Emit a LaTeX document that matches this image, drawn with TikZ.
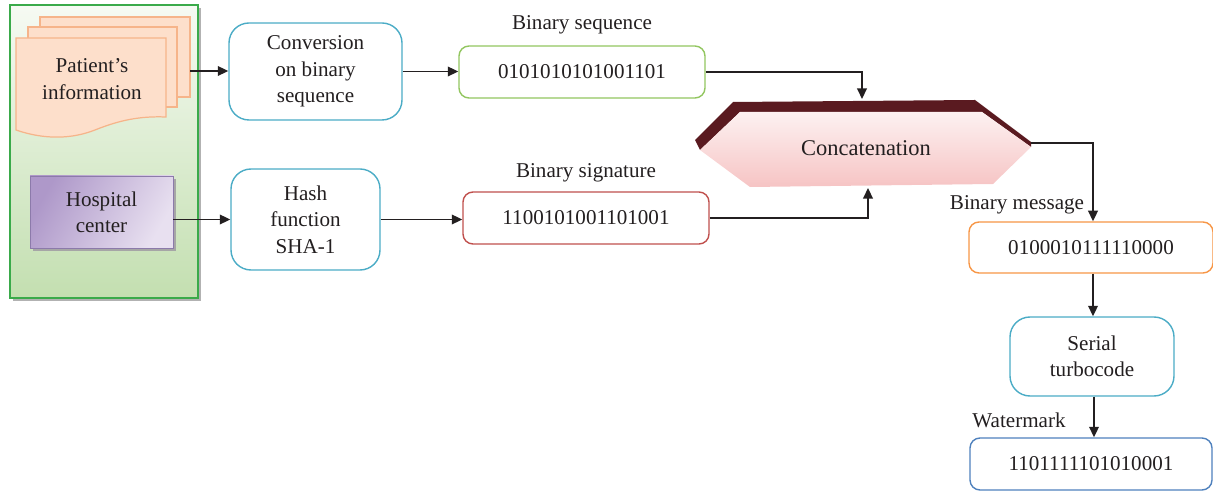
\documentclass[tikz,border=0pt]{standalone}
\usepackage{fontspec}
\setmainfont{Liberation Serif}
\usetikzlibrary{arrows.meta,calc}
\definecolor{txt}{HTML}{231F20}
\definecolor{cyanb}{HTML}{4BACC6}
\definecolor{greenb}{HTML}{92C660}
\definecolor{redb}{HTML}{C0504D}
\definecolor{orangeb}{HTML}{F79646}
\definecolor{blueb}{HTML}{4F81BD}
\definecolor{panelb}{HTML}{3AAA4A}
\definecolor{paneltop}{HTML}{F6FAF3}
\definecolor{panelbot}{HTML}{C3DFB0}
\definecolor{pagefill}{HTML}{FDDFCB}
\definecolor{pageb}{HTML}{F6B48A}
\definecolor{hospA}{HTML}{AE98C9}
\definecolor{hospB}{HTML}{E8E0F0}
\definecolor{hospb}{HTML}{8C7AAA}
\definecolor{darkred}{HTML}{5A1A20}
\definecolor{pinktop}{HTML}{FDF1F1}
\definecolor{pinkbot}{HTML}{F6C4C4}
\tikzset{
  px/.style 2 args={minimum width=#1*0.02cm, minimum height=#2*0.02cm},
  lbl/.style={text=txt, font=\fontsize{12}{15}\selectfont, align=center, inner sep=0pt},
  procbox/.style={draw=cyanb, line width=0.8pt, rounded corners=0.4cm, fill=white, lbl, inner sep=0pt},
  numbox/.style={draw=#1, line width=0.8pt, rounded corners=0.2cm, fill=white, lbl, inner sep=0pt},
  arr/.style={draw=txt, line width=0.9pt, -{Triangle[length=6pt,width=5.5pt]}},
}
\begin{document}
\begin{tikzpicture}[x=0.02cm,y=-0.02cm]
\useasboundingbox (0,0) rectangle (1213,492);
% green panel
\fill[gray!60] (13,8) rectangle (201,301);
\shade[top color=paneltop, bottom color=panelbot] (10,5) rectangle (198,298);
\draw[panelb, line width=1pt] (10,5) rectangle (198,298);
% document stack
\filldraw[fill=pagefill, draw=pageb, line width=0.7pt] (40,17) rectangle (190,97);
\filldraw[fill=pagefill, draw=pageb, line width=0.7pt] (28,27) rectangle (177,107);
\filldraw[fill=pagefill, draw=pageb, line width=0.7pt] (16,38) -- (166,38) -- (166,117)
  .. controls (140,116) and (120,120) .. (95,130)
  .. controls (72,139) and (45,140) .. (16,130) -- cycle;
\node[lbl] (pinfo) at (92,79) {Patient's\\information};
\coordinate (pout) at (190,71);
% hospital
\fill[gray!70] (33,179) rectangle (176,251);
\shade[shading=axis, left color=hospA, right color=hospB, shading angle=60] (30,176) rectangle (173,248);
\draw[hospb, line width=0.5pt] (30,176) rectangle (173,248);
\node[lbl, px={143}{72}] (hosp) at (101.5,212) {Hospital\\center};
% process boxes
\node[procbox, px={173}{97}] (conv) at (315.5,71.5) {Conversion\\on binary\\sequence};
\node[procbox, px={149}{101}] (hash) at (305.5,219.5) {Hash\\function\\SHA-1};
\node[numbox=greenb, px={246}{52}] (bseq) at (582,72) {0101010101001101};
\node[numbox=redb, px={246}{52}] (bsig) at (586,218) {1100101001101001};
\node[lbl] (lseq) at (582,25) {Binary sequence};
\node[lbl] (lsig) at (586,173) {Binary signature};
% concatenation
\fill[darkred] (695,140) -- (733,102) -- (975,100) -- (1031,142) -- (1031,147) -- (982,112) -- (740,112) -- (700,150) -- cycle;
\shade[top color=pinktop, bottom color=pinkbot] (700,150) -- (740,112) -- (982,112) -- (1031,147) -- (993,184) -- (750,187) -- cycle;
\node[lbl, font=\fontsize{12.8}{15}\selectfont] (concat) at (866,148) {Concatenation};
\coordinate (ctop) at (862,99);
\coordinate (cbot) at (868,188);
\coordinate (cright) at (1031,143);
% right column
\node[numbox=orangeb, px={244}{51}] (bmsg) at (1091,247.5) {0100010111110000};
\node[procbox, px={164}{79}] (serial) at (1092,356.5) {Serial\\turbocode};
\node[numbox=blueb, px={242}{52}] (wm) at (1091,464) {1101111101010001};
\node[lbl] (lmsg) at (1017,205) {Binary message};
\node[lbl] (lwm) at (1019,420) {Watermark};
% arrows
\draw[arr] (pout) -- (conv.west |- pout);
\draw[arr] (hosp.east |- hash.west) -- (hash.west);
\draw[arr] (conv.east) -- (bseq.west |- conv.east);
\draw[arr] (hash.east) -- (bsig.west |- hash.east);
\draw[arr] (bseq.east) -| (ctop);
\draw[arr] (bsig.east) -| (cbot);
\draw[arr] (cright) -| ([xshift=2*0.02cm]bmsg.north);
\draw[arr] ([xshift=2*0.02cm]bmsg.south) -- ([xshift=2*0.02cm]bmsg.south |- serial.north);
\draw[arr] ([xshift=2*0.02cm]serial.south) -- ([xshift=2*0.02cm]serial.south |- wm.north);
\end{tikzpicture}
\end{document}
